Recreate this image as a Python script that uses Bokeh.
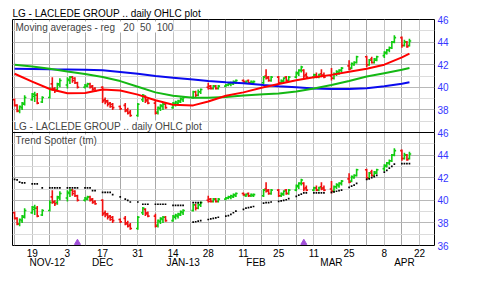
import numpy as np
import pandas as pd
from bokeh.plotting import figure
from bokeh.models import ColumnDataSource, Range1d, FixedTicker, LinearAxis, Label, Span
from bokeh.embed import file_html
from bokeh.resources import INLINE

# ---------------- data ----------------
dates = [
    "2012-11-12", "2012-11-13", "2012-11-14", "2012-11-15", "2012-11-16",
    "2012-11-19", "2012-11-20", "2012-11-21", "2012-11-23",
    "2012-11-26", "2012-11-27", "2012-11-28", "2012-11-29", "2012-11-30",
    "2012-12-03", "2012-12-04", "2012-12-05", "2012-12-06", "2012-12-07",
    "2012-12-10", "2012-12-11", "2012-12-12", "2012-12-13", "2012-12-14",
    "2012-12-17", "2012-12-18", "2012-12-19", "2012-12-20", "2012-12-21",
    "2012-12-24", "2012-12-26", "2012-12-27", "2012-12-28",
    "2012-12-31", "2013-01-02", "2013-01-03", "2013-01-04",
    "2013-01-07", "2013-01-08", "2013-01-09", "2013-01-10", "2013-01-11",
    "2013-01-14", "2013-01-15", "2013-01-16", "2013-01-17", "2013-01-18",
    "2013-01-22", "2013-01-23", "2013-01-24", "2013-01-25",
    "2013-01-28", "2013-01-29", "2013-01-30", "2013-01-31", "2013-02-01",
    "2013-02-04", "2013-02-05", "2013-02-06", "2013-02-07", "2013-02-08",
    "2013-02-11", "2013-02-12", "2013-02-13", "2013-02-14", "2013-02-15",
    "2013-02-19", "2013-02-20", "2013-02-21", "2013-02-22",
    "2013-02-25", "2013-02-26", "2013-02-27", "2013-02-28", "2013-03-01",
    "2013-03-04", "2013-03-05", "2013-03-06", "2013-03-07", "2013-03-08",
    "2013-03-11", "2013-03-12", "2013-03-13", "2013-03-14", "2013-03-15",
    "2013-03-18", "2013-03-19", "2013-03-20", "2013-03-21", "2013-03-22",
    "2013-03-25", "2013-03-26", "2013-03-27", "2013-03-28",
    "2013-04-01", "2013-04-02", "2013-04-03", "2013-04-04", "2013-04-05",
    "2013-04-08", "2013-04-09", "2013-04-10", "2013-04-11", "2013-04-12",
    "2013-04-15", "2013-04-16", "2013-04-17", "2013-04-18",
]
opens = [38.9, 38.4, 37.9, 38.2, 38.5, 38.9, 39.2, 39.3, 38.7, 39.1, 40.3, 39.9, 39.8, 40.2,
         40.2, 40.6, 40.9, 40.8, 40.4, 40.0, 40.1, 40.3, 40.1, 39.9, 40.0, 38.9, 38.8, 38.6,
         38.5, 38.3, 38.4, 38.0, 37.8, 37.5, 38.9, 39.2, 38.9, 38.6, 37.8, 38.1, 38.3, 38.5,
         38.2, 38.5, 38.6, 38.7, 38.9, 39.1, 39.6, 39.3, 39.6, 40.0, 40.1, 39.9, 40.1, 39.9,
         40.1, 40.2, 40.3, 40.3, 40.4, 40.6, 40.4, 40.6, 40.4, 40.4, 40.4, 41.0, 40.9, 40.6,
         40.9, 40.4, 40.5, 40.9, 40.6, 40.9, 41.2, 41.5, 41.5, 41.1, 40.9, 41.1, 40.9, 41.2,
         41.1, 41.0, 40.8, 41.2, 41.3, 41.5, 41.9, 41.7, 42.0, 42.2, 42.7, 42.0, 42.5, 42.2,
         42.4, 42.8, 43.0, 43.3, 43.5, 44.0, 44.4, 43.7, 44.0, 43.7]
highs = [39.0, 38.5, 38.4, 38.7, 39.3, 39.5, 39.6, 39.5, 39.2, 40.0, 40.9, 40.0, 40.4, 40.8,
         40.9, 41.0, 41.0, 40.9, 40.5, 40.3, 40.4, 40.4, 40.2, 40.0, 40.1, 39.1, 38.9, 38.7,
         38.6, 38.4, 38.6, 38.2, 38.0, 38.6, 39.4, 39.3, 39.0, 38.8, 38.3, 38.5, 38.6, 38.6,
         38.7, 38.8, 38.9, 39.1, 39.2, 39.7, 39.7, 39.8, 39.9, 40.4, 40.2, 40.2, 40.2, 40.2,
         40.3, 40.4, 40.5, 40.6, 40.7, 40.7, 40.6, 40.7, 40.6, 40.6, 41.0, 41.6, 41.0, 41.0,
         41.0, 40.7, 40.9, 41.0, 41.0, 41.4, 41.6, 41.9, 41.6, 41.3, 41.2, 41.3, 41.2, 41.6,
         41.3, 41.7, 41.3, 41.5, 41.6, 41.8, 42.4, 42.2, 42.3, 42.8, 42.8, 42.5, 42.7, 42.6,
         42.8, 43.2, 43.4, 43.6, 44.1, 44.6, 44.5, 44.2, 44.1, 44.3]
lows = [38.3, 37.8, 37.7, 38.0, 38.4, 38.8, 38.7, 38.5, 38.6, 39.0, 39.7, 39.5, 39.6, 40.0,
        39.9, 40.3, 40.4, 40.3, 39.9, 39.9, 40.0, 39.9, 39.7, 39.6, 38.6, 38.5, 38.3, 38.2,
        38.0, 38.0, 37.8, 37.6, 37.4, 37.4, 38.7, 38.6, 38.5, 37.6, 37.6, 37.9, 38.0, 38.1,
        38.1, 38.3, 38.4, 38.6, 38.7, 39.0, 39.1, 39.2, 39.4, 39.8, 39.8, 39.8, 39.8, 39.8,
        40.0, 40.1, 40.1, 40.2, 40.3, 40.4, 40.3, 40.3, 40.3, 40.3, 40.3, 40.7, 40.5, 40.5,
        40.3, 40.3, 40.4, 40.5, 40.5, 40.8, 41.0, 41.3, 40.8, 40.8, 40.8, 40.8, 40.8, 40.9,
        40.8, 40.6, 40.7, 41.0, 41.1, 41.3, 41.5, 41.6, 41.9, 42.1, 41.8, 41.9, 42.1, 42.1,
        42.3, 42.6, 42.9, 43.1, 43.4, 43.9, 43.5, 43.6, 43.5, 43.6]
closes = [38.4, 37.9, 38.3, 38.6, 39.1, 39.4, 39.3, 38.6, 39.1, 39.8, 39.8, 39.7, 40.3, 40.6,
          40.7, 40.9, 40.6, 40.4, 40.0, 40.2, 40.3, 40.0, 39.8, 39.7, 38.8, 38.7, 38.5, 38.3,
          38.2, 38.1, 37.9, 37.7, 37.5, 38.5, 39.3, 38.8, 38.6, 37.7, 38.2, 38.4, 38.5, 38.2,
          38.6, 38.7, 38.8, 39.0, 39.1, 39.6, 39.3, 39.6, 39.8, 39.9, 39.9, 40.1, 39.9, 40.1,
          40.2, 40.3, 40.4, 40.5, 40.6, 40.5, 40.5, 40.4, 40.5, 40.5, 40.9, 40.8, 40.6, 40.9,
          40.4, 40.6, 40.8, 40.6, 40.9, 41.3, 41.5, 41.8, 41.0, 40.9, 41.1, 40.9, 41.1, 41.0,
          40.9, 40.8, 41.2, 41.4, 41.5, 41.7, 41.6, 42.1, 42.2, 42.7, 42.0, 42.4, 42.2, 42.5,
          42.7, 43.1, 43.3, 43.5, 44.0, 44.4, 43.7, 44.0, 43.6, 44.1]

# Trend Spotter dots (None = no dot that day)
ts_upper = [41.85, 41.8, 41.6, 41.55, 41.55, 41.45, 41.45, 41.45, 41.1,
            41.1, 41.1, 41.1, 41.1, 41.1, 41.1, 41.1, 41.1, 41.1, 41.1,
            41.1, 41.1, 41.1, 40.85, 40.85, 40.7, 40.7, 40.7, 40.7, 40.5,
            40.3, 40.1, 40.0, 39.85, 39.85, 39.65, 39.65, 39.65,
            39.65, 39.65, 39.65, 39.65, 39.65, 39.55, 39.55, 39.55, 39.55, 39.55,
            39.8, 39.8, 39.8, 39.8] + [None] * 57
ts_lower = [None] * 47 + [
    38.07, 38.1, 38.15, 38.2, 38.3, 38.35, 38.4, 38.45, 38.5,
    38.6, 38.65, 38.75, 38.9, 39.05, 39.2, 39.3, 39.35, 39.4, 39.45,
    39.75, 39.8, 39.8, 39.85, 39.9, 39.95, 40.0, 40.05, 40.15,
    40.35, 40.45, 40.55, 40.65, 40.65, 40.65, 40.65, 40.65, 40.65, 40.65,
    40.7, 40.75, 40.8, 40.85, 40.9, 41.15, 41.25, 41.35, 41.5,
    41.85, 41.9, 42.0, 42.1, 42.2, 42.5, 42.65, 42.85, 43.0, 43.2,
    43.25, 43.25, 43.25, 43.25]

# Moving averages
ma_dates = ["2012-11-12", "2012-11-19", "2012-11-26", "2012-12-03", "2012-12-10", "2012-12-17",
            "2012-12-24", "2012-12-31", "2013-01-07", "2013-01-14", "2013-01-22", "2013-01-28",
            "2013-02-04", "2013-02-11", "2013-02-19", "2013-02-25", "2013-03-04", "2013-03-11",
            "2013-03-18", "2013-03-25", "2013-04-01", "2013-04-08", "2013-04-15", "2013-04-18"]
ma20 = [41.2, 40.5, 39.85, 39.47, 39.5, 39.8, 39.72, 39.35, 38.85, 38.45, 38.4, 38.75,
        39.25, 39.55, 40.0, 40.3, 40.62, 40.88, 41.1, 41.38, 41.65, 42.0, 42.65, 42.98]
ma50 = [42.0, 41.85, 41.65, 41.4, 41.18, 40.92, 40.55, 40.05, 39.55, 39.25, 39.08, 39.07,
        39.15, 39.28, 39.38, 39.45, 39.62, 39.9, 40.2, 40.55, 40.95, 41.25, 41.55, 41.7]
ma100 = [41.65, 41.63, 41.6, 41.58, 41.55, 41.5, 41.35, 41.2, 41.0, 40.85, 40.68, 40.55,
         40.45, 40.36, 40.2, 40.1, 40.0, 39.9, 39.86, 39.85, 39.92, 40.1, 40.32, 40.45]

tick_dates = ["2012-11-19", "2012-12-03", "2012-12-17", "2012-12-31", "2013-01-14", "2013-01-28",
              "2013-02-11", "2013-02-25", "2013-03-11", "2013-03-25", "2013-04-08", "2013-04-22"]
tick_labels = ["19", "3", "17", "31", "14", "28", "11", "25", "11", "25", "8", "22"]
month_dates = ["2012-11-25", "2012-12-17", "2013-01-18", "2013-02-16", "2013-03-18", "2013-04-16"]
month_labels = ["NOV-12", "DEC", "JAN-13", "FEB", "MAR", "APR"]
exdiv_dates = ["2012-12-07", "2013-03-07"]
price_ticks = [36, 38, 40, 42, 44, 46]

# ---------------- helpers ----------------
BASE = pd.Timestamp("2012-11-19")


def day(ds):
    return [int((pd.Timestamp(d) - BASE).days) for d in ds]


x = day(dates)
GREEN = "#10cc10"
RED = "#f01010"
colors = [GREEN if c >= o else RED for o, c in zip(opens, closes)]
W = 0.7
src = ColumnDataSource(dict(
    x=x, xl=[v - W for v in x], xr=[v + W for v in x],
    o=opens, h=highs, l=lows, c=closes, color=colors))

FONT = "Liberation Sans"
NB = "\u00a0"

p = figure(width=480, height=282, output_backend="svg", toolbar_location=None,
           x_range=Range1d(-7.83, 159.96), y_range=Range1d(36, 56),
           y_axis_location="right",
           min_border_left=12, min_border_right=46, min_border_top=19, min_border_bottom=37,
           title="LG - LACLEDE GROUP .. daily OHLC plot")
p.extra_y_ranges = {"top": Range1d(26, 46)}
p.background_fill_color = "white"
p.border_fill_color = "white"
p.outline_line_color = "black"
p.outline_line_alpha = 1
p.outline_line_width = 1

p.title.align = "left"
p.title.text_font = FONT
p.title.text_font_size = "10px"
p.title.text_font_style = "normal"
p.title.text_color = "black"
p.title.standoff = 2

# right price axis: lower panel 36..46 on default range, upper panel on shifted range
yax = p.yaxis[0]
ylab_ticks = price_ticks + [t + 10 for t in price_ticks[1:]]
yax.ticker = FixedTicker(ticks=ylab_ticks)
yax.major_label_overrides = {t: str(t if t <= 46 else t - 10) for t in ylab_ticks}
yax.major_label_text_color = "#3535ff"
yax.major_label_text_font = FONT
yax.major_label_text_font_size = "10px"
yax.major_label_standoff = 3
yax.major_tick_in = 0
yax.major_tick_out = 0
yax.minor_tick_line_color = None
yax.axis_line_color = None

# bottom date axis (day numbers) + month row
xax = p.xaxis[0]
tx = day(tick_dates)
xax.ticker = FixedTicker(ticks=tx)
xax.major_label_overrides = {t: lab for t, lab in zip(tx, tick_labels)}
xax.major_label_text_font = FONT
xax.major_label_text_font_size = "10px"
xax.major_label_text_color = "black"
xax.major_label_standoff = 3
xax.major_tick_in = 0
xax.major_tick_out = 0
xax.minor_tick_line_color = None
xax.axis_line_color = None

mx = day(month_dates)
max_ = LinearAxis(ticker=FixedTicker(ticks=mx),
                  major_label_overrides={t: lab for t, lab in zip(mx, month_labels)},
                  major_label_text_font=FONT, major_label_text_font_size="10px",
                  major_label_text_color="black", major_label_standoff=-3,
                  major_tick_in=0, major_tick_out=0, minor_tick_line_color=None,
                  axis_line_color=None)
p.add_layout(max_, "below")

# grids: weekly verticals, integer horizontals
weeks = list(range(-7, 162, 7))
p.xgrid.ticker = FixedTicker(ticks=tx, minor_ticks=[w for w in weeks if w not in tx])
p.xgrid.grid_line_color = "#c4c4c4"
p.xgrid.minor_grid_line_color = "#a8a8a8"
p.ygrid.ticker = FixedTicker(ticks=list(range(36, 57, 2)), minor_ticks=list(range(37, 56, 2)))
p.ygrid.grid_line_color = "#b8b8b8"
p.ygrid.minor_grid_line_color = "#dcdcdc"

# ---------------- OHLC bars in both panels ----------------
for rn in ("top", "default"):
    p.segment("x", "l", "x", "h", source=src, color="color", line_width=1.6, y_range_name=rn)
    p.segment("xl", "o", "x", "o", source=src, color="color", line_width=1.6, y_range_name=rn)
    p.segment("x", "c", "xr", "c", source=src, color="color", line_width=1.6, y_range_name=rn)

# upper panel: moving averages
mx_d = day(ma_dates)
p.line(mx_d, ma100, color="#0a0aee", line_width=2, y_range_name="top")
p.line(mx_d, ma50, color="#14b814", line_width=2, y_range_name="top")
p.line(mx_d, ma20, color="#ff0000", line_width=2, y_range_name="top")

# lower panel: trend spotter dots and ex-dividend markers
up = np.array(ts_upper, dtype=float)
lo = np.array(ts_lower, dtype=float)
p.scatter(x, up, marker="square", size=1.7, fill_color="black", line_color=None)
p.scatter(x, lo, marker="square", size=1.7, fill_color="black", line_color=None)
p.scatter(day(exdiv_dates), [36.25] * len(exdiv_dates), marker="triangle", size=6,
          color="#a050d8")

# separator between the panels
p.add_layout(Span(location=46, dimension="width", line_color="black", line_width=1))

# panel captions
x0 = -7.83
p.add_layout(Label(x=x0, y=56, x_offset=3, y_offset=-2,
                   text="Moving averages - reg" + NB * 3 + "20" + NB * 2 + "50" + NB * 2 + "100",
                   text_baseline="top", text_font=FONT, text_font_size="10px",
                   background_fill_color="white"))
p.add_layout(Label(x=x0, y=46, x_offset=1, y_offset=1, text="LG - LACLEDE GROUP .. daily OHLC plot",
                   text_baseline="bottom", text_font=FONT, text_font_size="10px",
                   background_fill_color="white"))
p.add_layout(Label(x=x0, y=46, x_offset=3, y_offset=-2, text="Trend Spotter (tm)",
                   text_baseline="top", text_font=FONT, text_font_size="10px",
                   background_fill_color="white"))

open("out.html", "w").write(file_html(p, INLINE))
